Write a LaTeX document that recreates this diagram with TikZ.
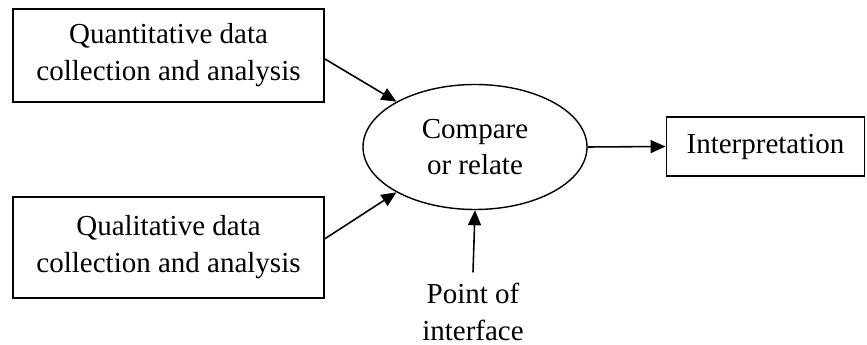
\documentclass[tikz,border=0pt]{standalone}
\usepackage{fontspec}
\setmainfont{Liberation Serif}
\usetikzlibrary{shapes.geometric,arrows.meta}
\tikzset{
  databox/.style={draw,line width=1.1pt,minimum width=6.22cm,align=center,inner sep=0pt},
  txt/.style={font=\fontsize{16.5}{21}\selectfont},
  link/.style={-{Triangle[length=0.3cm,width=0.26cm]},line width=0.9pt}
}
\begin{document}
\begin{tikzpicture}
\useasboundingbox (0,0) rectangle (17.34,6.9) ;
\coordinate (Q) at (3.37,5.79) ;
\coordinate (L) at (3.37,1.95) ;
\coordinate (C) at (9.5,3.96) ;
\coordinate (I) at (15.31,3.97) ;
\coordinate (P) at (9.46,0.66) ;
\node [databox,txt,minimum height=1.86cm] (quan) at (Q) {Quantitative data\\collection and analysis} ;
\node [databox,txt,minimum height=2.02cm] (qual) at (L) {Qualitative data\\collection and analysis} ;
\node [draw,ellipse,line width=0.8pt,txt,align=center,minimum width=4.48cm,minimum height=2.5cm,inner sep=0pt] (comp) at (C) {Compare\\or relate} ;
\node [draw,line width=1.1pt,txt,minimum width=3.96cm,minimum height=1.18cm,inner sep=0pt] (interp) at (I) {Interpretation} ;
\node [txt,align=center,inner sep=0pt] (point) at (P) {Point of\\interface} ;
\draw [link] ([yshift=-2pt] quan.east) -- (comp.150) ;
\draw [link] ([yshift=5pt] qual.east) -- (comp.210) ;
\draw [link] (comp.east) -- (interp.west) ;
\draw [link] ([yshift=6pt] point.north) -- (comp.south) ;
\end{tikzpicture}
\end{document}
